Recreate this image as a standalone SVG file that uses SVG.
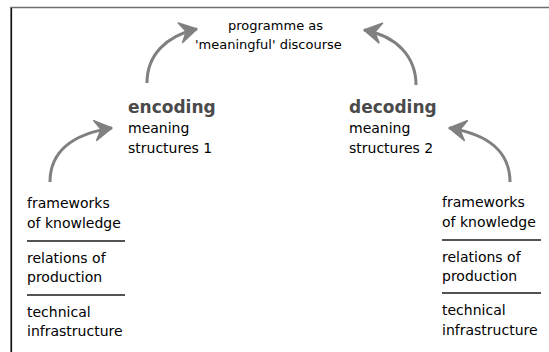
<svg xmlns="http://www.w3.org/2000/svg" width="549" height="352" viewBox="0 0 549 352">
  <style>
    .t { font-family: "DejaVu Sans", "Liberation Sans", sans-serif; font-size: 14px; fill: #000; }
    .top { font-size: 13px; }
    .head { font-family: "DejaVu Sans", "Liberation Sans", sans-serif; font-size: 17px; font-weight: bold; fill: #4a4a4a; }
    .rule { stroke: #1a1a1a; stroke-width: 1.6; fill: none; }
    .arc { stroke: #808080; stroke-width: 3; fill: none; marker-end: url(#arrow); }
  </style>
  <defs>
    <marker id="arrow" markerUnits="userSpaceOnUse" markerWidth="24" markerHeight="24" viewBox="-20 -12 24 24" refX="0" refY="0" orient="auto">
      <path d="M0,0 L-17,-10 L-11,0 L-17,10 Z" fill="#808080" stroke="#808080" stroke-width="1.5" stroke-linejoin="round"/>
    </marker>
  </defs>

  <rect width="549" height="352" fill="#fff"/>

  <!-- frame -->
  <g id="frame">
    <line x1="10" y1="7.5" x2="549" y2="7.5" stroke="#707070" stroke-width="1.5"/>
    <line x1="10.5" y1="7" x2="10.5" y2="352" stroke="#808080" stroke-width="1"/>
    <line x1="11.5" y1="8" x2="11.5" y2="352" stroke="#111" stroke-width="1.2"/>
  </g>

  <!-- connectors -->
  <g id="connectors">
    <path class="arc" d="M50,182 C50,152 72,134 112,128"/>
    <path class="arc" d="M147,83 C147,55 166,36 197,29"/>
    <path class="arc" d="M416,85 C416,57 397,36 364,30"/>
    <path class="arc" d="M510,182 C510,152 488,134 449,128"/>
  </g>

  <g id="programme">
    <text class="t top" x="228" y="30">programme as</text>
    <text class="t top" x="195" y="49">'meaningful' discourse</text>
  </g>

  <g id="encoding">
    <text class="head" x="128" y="113">encoding</text>
    <text class="t" x="128" y="133">meaning</text>
    <text class="t" x="128" y="153">structures 1</text>
  </g>

  <g id="decoding">
    <text class="head" x="349" y="113">decoding</text>
    <text class="t" x="349" y="133">meaning</text>
    <text class="t" x="349" y="153">structures 2</text>
  </g>

  <g id="production-stack">
    <text class="t" x="27" y="208">frameworks</text>
    <text class="t" x="27" y="228">of knowledge</text>
    <line class="rule" x1="27" y1="241" x2="125" y2="241"/>
    <text class="t" x="27" y="263">relations of</text>
    <text class="t" x="27" y="282">production</text>
    <line class="rule" x1="27" y1="295" x2="125" y2="295"/>
    <text class="t" x="27" y="317">technical</text>
    <text class="t" x="27" y="336">infrastructure</text>
  </g>

  <g id="reception-stack">
    <text class="t" x="442" y="207">frameworks</text>
    <text class="t" x="442" y="227">of knowledge</text>
    <line class="rule" x1="442" y1="240" x2="541" y2="240"/>
    <text class="t" x="442" y="262">relations of</text>
    <text class="t" x="442" y="281">production</text>
    <line class="rule" x1="442" y1="293" x2="541" y2="293"/>
    <text class="t" x="442" y="315">technical</text>
    <text class="t" x="442" y="335">infrastructure</text>
  </g>
</svg>
